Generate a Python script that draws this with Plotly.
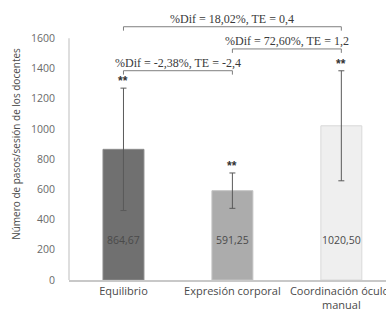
import plotly.graph_objects as go

categories = ["Equilibrio", "Expresión corporal", "Coordinación óculo-<br>manual"]
means = [864.67, 591.25, 1020.50]
errors = [405, 117, 364]
value_labels = ["864,67", "591,25", "1020,50"]
signif = ["**", "**", "**"]
bar_colors = ["#707070", "#acacac", "#efefef"]
bar_lines = ["#8c8c8c", "#c4c4c4", "#d9d9d9"]

# comparisons: (from index, to index, bracket level, text)
comp_from = [0, 1, 0]
comp_to = [2, 2, 1]
comp_level = [1676, 1529, 1385]
comp_text = ["%Dif = 18,02%, TE = 0,4", "%Dif = 72,60%, TE = 1,2", "%Dif = -2,38%, TE = -2,4"]

yticks = [0, 200, 400, 600, 800, 1000, 1200, 1400, 1600]

fig = go.Figure()
fig.add_trace(go.Bar(
    x=list(range(len(categories))), y=means,
    width=0.376,
    marker=dict(color=bar_colors, line=dict(color=bar_lines, width=1)),
    error_y=dict(type="data", array=errors, visible=True, color="#5a5a5a", thickness=1, width=3),
    showlegend=False,
))

annotations = []
for i, (m, lab) in enumerate(zip(means, value_labels)):
    annotations.append(dict(x=i, y=265, xref="x", yref="y", text=lab, showarrow=False,
                            font=dict(family="Open Sans", size=10.5, color="#4a4a4a")))
for i, (m, e, s) in enumerate(zip(means, errors, signif)):
    annotations.append(dict(x=i, y=m + e, xref="x", yref="y", text="<b>" + s + "</b>", showarrow=False,
                            yanchor="bottom", yshift=-2,
                            font=dict(family="Liberation Sans", size=12, color="#333333")))

shapes = []
tick = 26
for a, b, lvl, txt in zip(comp_from, comp_to, comp_level, comp_text):
    shapes.append(dict(type="path",
                       path=f"M {a},{lvl - tick} L {a},{lvl} L {b},{lvl} L {b},{lvl - tick}",
                       xref="x", yref="y", line=dict(color="#7f7f7f", width=1)))
    annotations.append(dict(x=(a + b) / 2, y=lvl, xref="x", yref="y", text=txt, showarrow=False,
                            yanchor="bottom", yshift=-1,
                            font=dict(family="Liberation Serif", size=12, color="#3a3a3a")))

# y axis line up to 1600
shapes.append(dict(type="line", xref="paper", yref="y", x0=0, x1=0, y0=0, y1=1600,
                   line=dict(color="#c8c8c8", width=1.2)))

fig.update_layout(
    width=386, height=316,
    margin=dict(l=69, r=0, t=8, b=36),
    paper_bgcolor="white", plot_bgcolor="white",
    shapes=shapes, annotations=annotations,
    xaxis=dict(range=[-0.5, 2.41], tickvals=list(range(len(categories))), ticktext=categories,
               showline=True, linecolor="#c8c8c8", linewidth=1.5, showgrid=False, zeroline=False,
               automargin=False, ticklabeloverflow="allow",
               tickfont=dict(family="Open Sans", size=11, color="#4a4a4a"), ticks=""),
    yaxis=dict(range=[0, 1800], tickvals=yticks, ticktext=[str(v) for v in yticks],
               showline=False, showgrid=False, zeroline=False, automargin=False,
               ticks="outside", ticklen=11, tickcolor="rgba(0,0,0,0)",
               tickfont=dict(family="Open Sans", size=10.5, color="#6a6a6a"),
               title=dict(text="Número de pasos/sesión de los docentes", standoff=8,
                          font=dict(family="Open Sans", size=10, color="#4a4a4a"))),
)

fig.write_html("out.html", config={"displayModeBar": False},
               post_script="document.body.style.margin='0';document.body.style.overflow='hidden';")
